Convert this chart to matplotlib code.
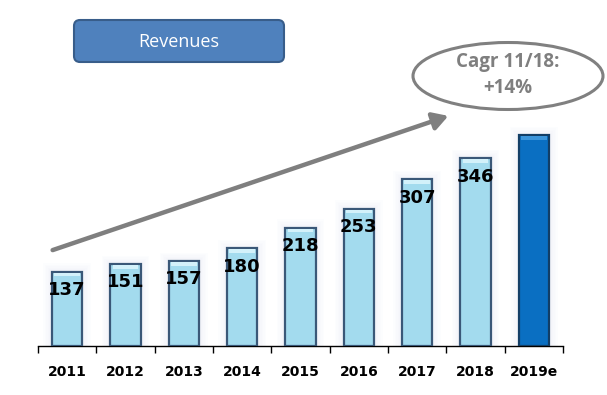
import matplotlib.pyplot as plt
from matplotlib.patches import FancyBboxPatch, Ellipse, FancyArrowPatch

YEARS = ["2011", "2012", "2013", "2014", "2015", "2016", "2017", "2018", "2019e"]
REVENUES = [137, 151, 157, 180, 218, 253, 307, 346, 388]
LABELS = ["137", "151", "157", "180", "218", "253", "307", "346", ""]

W, H = 607, 395

fig = plt.figure(figsize=(W / 100, H / 100), dpi=100)
fig.patch.set_facecolor("white")

# main bar axes, baseline at y=346 px, axis spans x 38..563 px
ax = fig.add_axes([38 / W, (H - 346) / H, 525 / W, 346 / H])
ax.set_xlim(-0.5, len(YEARS) - 0.5)
ax.set_ylim(0, 637)
ax.patch.set_alpha(0)

x = list(range(len(YEARS)))
colors = ["#a3dbee"] * (len(YEARS) - 1) + ["#0a6fc2"]
edges = ["#3a5878"] * (len(YEARS) - 1) + ["#123e66"]

# soft glow behind bars (stacked faint layers)
for i, v in enumerate(REVENUES):
    for k in range(1, 7):
        ax.bar(i, v + 2.5 * k, width=0.52 + 0.05 * k, color="#c4d9f0", alpha=0.035,
               linewidth=0, zorder=1)

bars = ax.bar(x, REVENUES, width=0.52, color=colors, edgecolor=edges, linewidth=1.6, zorder=3)
# thin bevel highlight near the top
hl = ["#d3f1fa"] * (len(YEARS) - 1) + ["#3c95da"]
ax.bar(x, [7] * len(x), bottom=[v - 9 for v in REVENUES], width=0.44,
       color=hl, linewidth=0, zorder=4)

for i, (v, lab) in enumerate(zip(REVENUES, LABELS)):
    if lab:
        ax.text(i, v - 34, lab, ha="center", va="center", fontsize=13,
                fontweight="bold", color="black", zorder=5)

for s in ["top", "right", "left"]:
    ax.spines[s].set_visible(False)
ax.spines["bottom"].set_linewidth(1.0)
ax.set_yticks([])
ax.set_xticks([i - 0.5 for i in range(len(YEARS) + 1)])
ax.set_xticklabels([])
ax.tick_params(axis="x", which="major", length=5, width=1.0, direction="out")
ax.set_xticks(x, minor=True)
ax.set_xticklabels(YEARS, minor=True, fontsize=10, fontweight="bold")
ax.tick_params(axis="x", which="minor", length=0, pad=14)

# overlay in pixel coords for decorations
ov = fig.add_axes([0, 0, 1, 1], zorder=10)
ov.set_xlim(0, W)
ov.set_ylim(H, 0)
ov.axis("off")
ov.patch.set_alpha(0)

box = FancyBboxPatch((74, 20), 210, 42, boxstyle="round,pad=0,rounding_size=6",
                     facecolor="#4f81bd", edgecolor="#385d8a", linewidth=1.5)
ov.add_patch(box)
ov.text(179, 42, "Revenues", ha="center", va="center", fontsize=13,
        color="white", family="Open Sans")

ell = Ellipse((508, 76), 190, 67, facecolor="white", edgecolor="#808080", linewidth=2.2)
ov.add_patch(ell)
ov.text(508, 62, "Cagr 11/18:", ha="center", va="center", fontsize=13.5,
        fontweight="bold", color="#7f7f7f", family="Open Sans")
ov.text(508, 88, "+14%", ha="center", va="center", fontsize=13.5,
        fontweight="bold", color="#7f7f7f", family="Open Sans")

arr = FancyArrowPatch((50, 251), (451, 115), arrowstyle="-|>,head_length=6,head_width=3.5",
                      color="#7f7f7f", linewidth=3.2, mutation_scale=1.5)
ov.add_patch(arr)

fig.savefig("out.png", dpi=100)
